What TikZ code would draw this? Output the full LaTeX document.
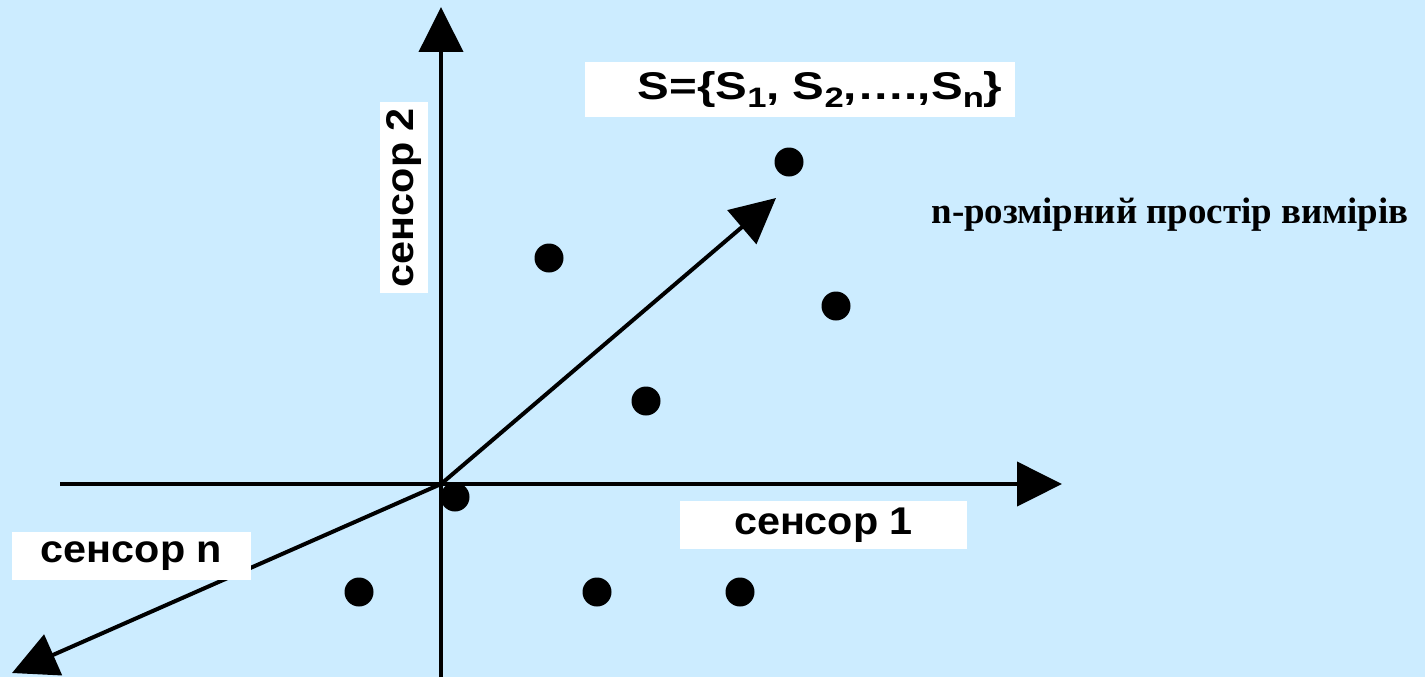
\documentclass[tikz,border=0pt]{standalone}
\usepackage{fontspec}
\setmainfont{Liberation Sans}
\newfontfamily\labelfont[FakeStretch=1.07]{Liberation Sans}
\newfontfamily\setfont[FakeStretch=1.23]{Liberation Sans}
\newfontfamily\timesfont{Liberation Serif}
\usetikzlibrary{arrows.meta,positioning}
\definecolor{skyback}{HTML}{CCECFF}
\newcommand{\sub}[1]{\raisebox{-0.2em}{\fontsize{16}{18}\selectfont #1}}

\begin{document}
\begin{tikzpicture}[
    x=0.02cm, y=-0.02cm,
    axis/.style={line width=0.08cm, -{Triangle[length=0.9cm,width=0.88cm]}},
    pt/.style={circle, fill=black, inner sep=0pt, minimum size=0.58cm},
    lblbox/.style={fill=white, font=\labelfont\fontsize{22}{26}\selectfont\bfseries,
      inner sep=0pt, minimum height=0.96cm}
  ]
  \fill[skyback] (0,0) rectangle (1425,677);
  \useasboundingbox (0,0) rectangle (1425,677);

  % axes
  \coordinate (o) at (441,484);
  \coordinate (ybot) at (441,677);
  \coordinate (ytop) at (441,7);
  \coordinate (xleft) at (60,484);
  \coordinate (xright) at (1062,484);
  \coordinate (dtip) at (776,198);
  \coordinate (ntip) at (12,673);
  \draw[axis] (ybot) -- (ytop);
  \draw[axis] (xleft) -- (xright);
  \draw[axis] (o) -- (dtip);
  \draw[axis] (o) -- (ntip);

  % labels
  \node[lblbox, minimum width=5.74cm] (s1lbl) at (823.5,525) {сенсор 1};
  \node[lblbox, minimum width=4.78cm] (snlbl) at (131.5,556) {сенсор n};
  \node[lblbox, rotate=90, minimum width=3.82cm] (s2lbl) at (404,197.5) {сенсор 2};
  \node[lblbox, font=\setfont\fontsize{22}{26}\selectfont\bfseries,
    minimum width=8.6cm, minimum height=1.1cm] (setlbl) at (800,89.5)
    {\hspace*{0.8cm}S=\{S\sub{1}, S\sub{2},….,S\sub{n}\}};
  \node[font=\timesfont\bfseries\fontsize{21}{25}\selectfont] (space) at (1170,215)
    {n-розмірний простір вимірів};

  % measurements
  \foreach \x/\y [count=\i] in {789/162,549/258,836/306,646/401,455/497,359/592,597/592,740/592} {
    \node[pt] (d\i) at (\x,\y) {};
  }
\end{tikzpicture}
\end{document}
